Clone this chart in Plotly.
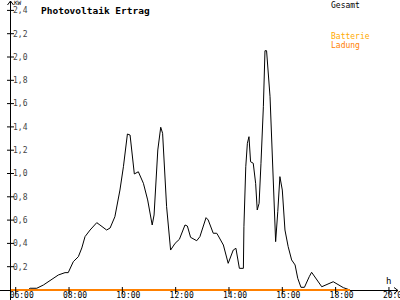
import plotly.graph_objects as go

# Gesamt (total PV output), time in decimal hours, power in kW
t_gesamt = [5.8, 6.0, 6.46, 6.54, 6.79, 7.04, 7.35, 7.60, 7.85, 7.97, 8.16, 8.35, 8.48, 8.60, 8.79,
            9.04, 9.16, 9.41, 9.54, 9.72, 9.91, 10.04, 10.19, 10.29, 10.45, 10.60, 10.79, 10.95,
            11.12, 11.19, 11.33, 11.44, 11.51, 11.66, 11.81, 11.98, 12.14, 12.35, 12.44, 12.56,
            12.79, 12.91, 13.14, 13.22, 13.41, 13.54, 13.60, 13.79, 13.97, 14.16, 14.26, 14.39,
            14.54, 14.56, 14.63, 14.69, 14.75, 14.81, 14.91, 15.00, 15.06, 15.13, 15.20, 15.29,
            15.35, 15.41, 15.54, 15.64, 15.69, 15.75, 15.83, 15.91, 16.00, 16.10, 16.22, 16.35,
            16.48, 16.58, 16.70, 16.83, 17.01, 17.10, 17.48, 17.91, 18.29, 18.54]
p_gesamt = [0.0, 0.0, 0.0, 0.015, 0.015, 0.043, 0.092, 0.129, 0.149, 0.149, 0.243, 0.286, 0.361, 0.458,
            0.515, 0.578, 0.558, 0.515, 0.532, 0.629, 0.858, 1.058, 1.339, 1.330, 0.996, 1.015,
            0.916, 0.773, 0.558, 0.644, 1.202, 1.397, 1.345, 0.715, 0.343, 0.401, 0.435, 0.558,
            0.549, 0.452, 0.423, 0.458, 0.621, 0.601, 0.487, 0.487, 0.464, 0.386, 0.229, 0.343,
            0.358, 0.186, 0.186, 0.543, 1.058, 1.259, 1.316, 1.101, 1.088, 0.916, 0.687, 0.744,
            1.088, 1.573, 2.054, 2.054, 1.659, 1.088, 0.658, 0.415, 0.672, 0.973, 0.858, 0.515,
            0.372, 0.258, 0.215, 0.100, 0.023, 0.023, 0.114, 0.152, 0.028, 0.071, 0.020, 0.0]

# Batterie Ladung (battery charge)
t_batterie = [5.79, 18.54]
p_batterie = [0.0, 0.0]

x_tickvals = [6, 8, 10, 12, 14, 16, 18, 20]
x_ticktext = ["06:00", "08:00", "10:00", "12:00", "14:00", "16:00", "18:00", "20:00"]
y_tickvals = [0.2, 0.4, 0.6, 0.8, 1.0, 1.2, 1.4, 1.6, 1.8, 2.0, 2.2, 2.4]
y_ticktext = ["0,2", "0,4", "0,6", "0,8", "1,0", "1,2", "1,4", "1,6", "1,8", "2,0", "2,2", "2,4"]

W, H = 400, 300
L, R, T, B = 10, 2, 2, 8
PW, PH = W - L - R, H - T - B
Y_PER_PX = 1 / 116.5


def px(x):
    return (x - L) / PW


def py(y):
    return (H - B - y) / PH


FONT = "DejaVu Sans Mono"
ORANGE = "#ff8000"

fig = go.Figure()
fig.add_trace(go.Scatter(x=t_gesamt, y=p_gesamt, mode="lines",
                         line=dict(color="black", width=1), hoverinfo="skip"))
fig.add_trace(go.Scatter(x=t_batterie, y=p_batterie, mode="lines",
                         line=dict(color=ORANGE, width=2), hoverinfo="skip"))

shapes = []
# axes
shapes.append(dict(type="line", xref="paper", yref="paper", x0=px(0), x1=px(398), y0=py(290.5), y1=py(290.5),
                   line=dict(color="black", width=1), layer="below"))
shapes.append(dict(type="line", xref="paper", yref="paper", x0=px(10.5), x1=px(10.5), y0=py(300), y1=py(1),
                   line=dict(color="black", width=1)))
# arrow heads
shapes.append(dict(type="path", xref="paper", yref="paper",
                   path=f"M {px(7.5)},{py(5)} L {px(10.5)},{py(1)} L {px(13.5)},{py(5)}",
                   line=dict(color="black", width=1)))
shapes.append(dict(type="path", xref="paper", yref="paper",
                   path=f"M {px(394)},{py(287.5)} L {px(398)},{py(290.5)} L {px(394)},{py(293.5)}",
                   line=dict(color="black", width=1)))
# tick marks crossing the axes
for v in y_tickvals:
    shapes.append(dict(type="line", xref="paper", yref="y", x0=px(7), x1=px(14), y0=v, y1=v,
                       line=dict(color="black", width=1)))
for v in x_tickvals:
    shapes.append(dict(type="line", xref="x", yref="paper", x0=v, x1=v, y0=py(294), y1=py(287),
                       line=dict(color="black", width=1)))

annotations = [
    dict(text="<b>Photovoltaik Ertrag</b>", xref="paper", yref="paper", x=px(39), y=py(10),
         xanchor="left", yanchor="middle", showarrow=False, font=dict(family=FONT, size=9.5, color="black")),
    dict(text="KW", xref="paper", yref="paper", x=px(12), y=py(2.5), xanchor="left", yanchor="middle",
         showarrow=False, font=dict(family=FONT, size=6, color="black")),
    dict(text="h", xref="paper", yref="paper", x=px(384), y=py(281), xanchor="left", yanchor="middle",
         showarrow=False, font=dict(family=FONT, size=9, color="black")),
    dict(text="Gesamt", xref="paper", yref="paper", x=px(329), y=py(5), xanchor="left", yanchor="middle",
         showarrow=False, font=dict(family=FONT, size=8, color="black")),
    dict(text="Batterie", xref="paper", yref="paper", x=px(329), y=py(36.5), xanchor="left", yanchor="middle",
         showarrow=False, font=dict(family=FONT, size=8, color="#ffaa00")),
    dict(text="Ladung", xref="paper", yref="paper", x=px(329), y=py(45.5), xanchor="left", yanchor="middle",
         showarrow=False, font=dict(family=FONT, size=8, color=ORANGE)),
]

fig.update_layout(
    width=W, height=H,
    margin=dict(l=L, r=R, t=T, b=B, pad=0, autoexpand=False),
    paper_bgcolor="white", plot_bgcolor="white",
    showlegend=False,
    shapes=shapes, annotations=annotations,
    font=dict(family=FONT, size=8, color="black"),
    xaxis=dict(range=[5.786, 20.34], showgrid=False, zeroline=False, showline=False, ticks="",
               tickvals=x_tickvals, ticktext=x_ticktext, ticklabelshift=6, ticklabelstandoff=-3,
               ticklabeloverflow="allow", automargin=False,
               tickfont=dict(family=FONT, size=8), fixedrange=True),
    yaxis=dict(range=[-2 * Y_PER_PX, 288 * Y_PER_PX], showgrid=False, zeroline=False, showline=False, ticks="",
               tickvals=y_tickvals, ticktext=y_ticktext, ticklabelposition="inside",
               ticklabeloverflow="allow", automargin=False,
               tickfont=dict(family=FONT, size=8), fixedrange=True),
)

fig.write_html("out.html")
